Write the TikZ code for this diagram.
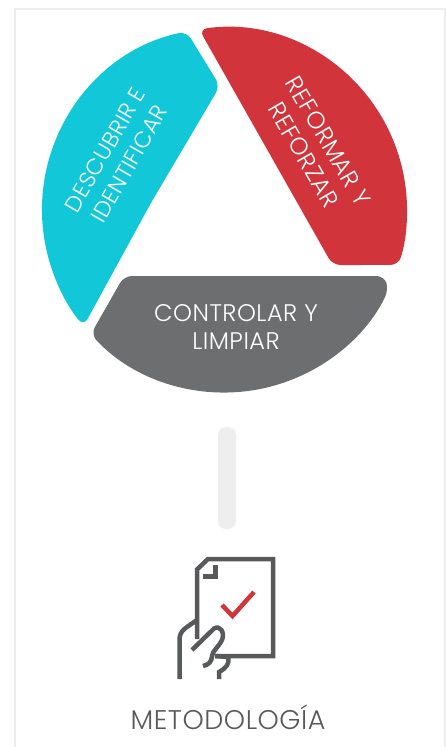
\documentclass[tikz,border=0pt]{standalone}
\usepackage{fontspec}
\setmainfont{Poppins Light}[LetterSpace=2]
\definecolor{wedgecyan}{HTML}{12C8D8}
\definecolor{wedgered}{HTML}{D1343A}
\definecolor{wedgegray}{HTML}{6D6E70}
\definecolor{panelgray}{HTML}{EEEEEE}
\definecolor{inkgray}{HTML}{58595B}
\tikzset{
  wedgelabel/.style={text=white,align=center,inner sep=0pt,font=\fontsize{24}{28}\selectfont},
  iconline/.style={draw=inkgray,line width=4.5pt,line join=miter}
}
\begin{document}
\begin{tikzpicture}[x=1pt,y=-1pt]
      \useasboundingbox (0,0) rectangle (446,747);
      \clip (0,0) rectangle (446,747);

      \draw[panelgray,line width=2.5pt] (15,9) rectangle (445,770);

      % the wheel, with y upwards from its centre
      \begin{scope}[shift={(224.5,210)},y=1pt,rounded corners=8pt]
        \fill[wedgered] (140,-55) -- (108,-55) -- (98:182.5) arc[start angle=98,end angle=-17.5,radius=182.5pt] -- cycle;
        \fill[wedgecyan] (-73,8) -- (-4.5,124) -- (102:182.5) arc[start angle=102,end angle=219.5,radius=182.5pt] -- cycle;
        \fill[wedgegray] (50,-66) -- (-100.5,-66) -- (222.9:182.5) arc[start angle=222.9,end angle=334,radius=182.5pt] -- (160,-66) -- cycle;
      \end{scope}

      \node[wedgelabel,rotate=-60] (reformar) at (316,148) {REFORMAR Y\\REFORZAR};
      \node[wedgelabel,font=\fontsize{22.5}{28}\selectfont,rotate=60] (descubrir) at (117,157) {DESCUBRIR E\\IDENTIFICAR};
      \node[wedgelabel] (controlar) at (236,327) {CONTROLAR Y\\LIMPIAR};

      \fill[panelgray,rounded corners=8pt] (218,427) rectangle (236,529);

      % the icon
      \draw[iconline] (197,639) -- (197,569.5) -- (208,559) -- (273,559) -- (273,656) -- (215,656);
      \draw[iconline] (215.5,565) -- (215.5,576.5) -- (203,576.5);
      \draw[draw=wedgered,line width=4.5pt] (222,605) -- (232.5,616) -- (254,592);
      \draw[iconline] (179.5,679) -- (179.5,640) .. controls (179.5,630) and (186,628) .. (197,620);
      \draw[iconline] (192,650) -- (214,628.5) .. controls (220,625) and (225,632) .. (222,640) .. controls (218,648) and (213,650) .. (212,656) .. controls (212,662) and (208,665) .. (203,666);
      \draw[iconline] (215,656) -- (228,657) .. controls (230,664) and (226,668) .. (219,672) -- (219,679);

      \node[text=inkgray,font=\fontsize{27}{28}\selectfont] (metodologia) at (228,717) {METODOLOGÍA};
    \end{tikzpicture}
\end{document}
